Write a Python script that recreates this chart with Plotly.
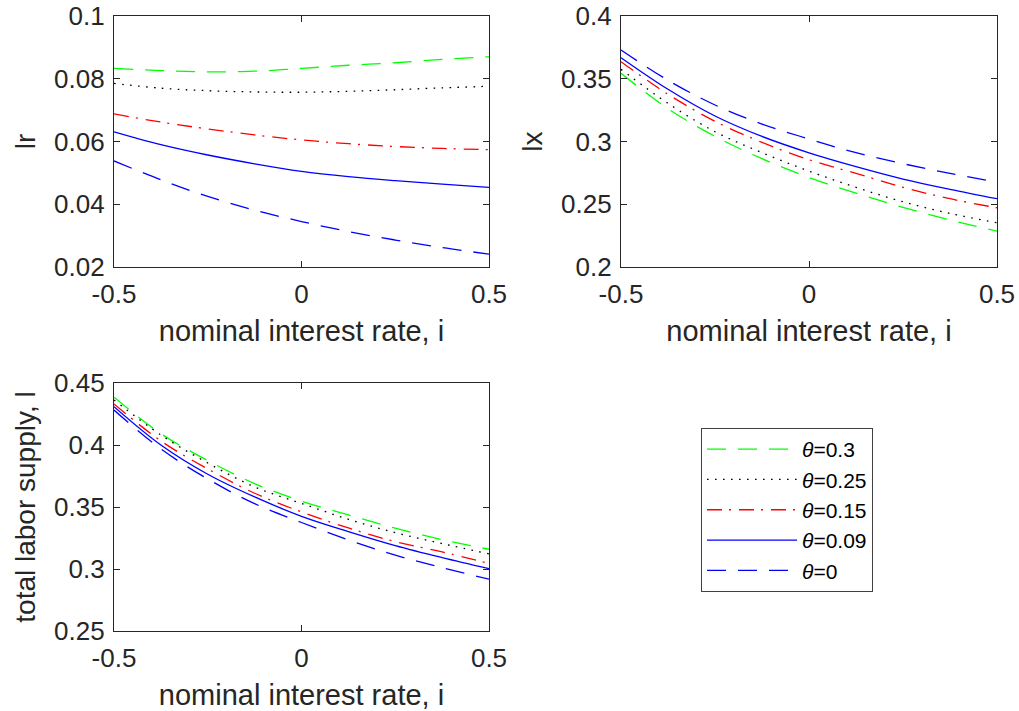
import plotly.graph_objects as go

# ---------------- data ----------------
x_rate = [-0.5, -0.375, -0.25, -0.125, 0.0, 0.125, 0.25, 0.375, 0.5]

theta_labels = ["0.3", "0.25", "0.15", "0.09", "0"]

lr_030 = [0.0833, 0.0826, 0.0822, 0.0824, 0.0833, 0.0843, 0.0851, 0.0862, 0.0870]
lr_025 = [0.0785, 0.0770, 0.0762, 0.0758, 0.0757, 0.0760, 0.0765, 0.0771, 0.0776]
lr_015 = [0.0688, 0.0662, 0.0640, 0.0621, 0.0605, 0.0593, 0.0584, 0.0578, 0.0574]
lr_009 = [0.0631, 0.0590, 0.0557, 0.0529, 0.0505, 0.0488, 0.0475, 0.0464, 0.0454]
lr_000 = [0.0538, 0.0478, 0.0425, 0.0381, 0.0345, 0.0313, 0.0286, 0.0262, 0.0241]

lx_030 = [0.3543, 0.3261, 0.3041, 0.2863, 0.2713, 0.2588, 0.2475, 0.2375, 0.2285]
lx_025 = [0.3575, 0.3304, 0.3078, 0.2911, 0.2764, 0.2635, 0.2520, 0.2427, 0.2353]
lx_015 = [0.3636, 0.3376, 0.3161, 0.2993, 0.2855, 0.2746, 0.2635, 0.2544, 0.2472]
lx_009 = [0.3668, 0.3416, 0.3203, 0.3040, 0.2910, 0.2800, 0.2701, 0.2619, 0.2544]
lx_000 = [0.3729, 0.3488, 0.3291, 0.3139, 0.3020, 0.2911, 0.2823, 0.2746, 0.2677]

l_030 = [0.4385, 0.4092, 0.3874, 0.3689, 0.3547, 0.3436, 0.3329, 0.3237, 0.3159]
l_025 = [0.4363, 0.4081, 0.3855, 0.3662, 0.3529, 0.3401, 0.3293, 0.3205, 0.3122]
l_015 = [0.4331, 0.4033, 0.3807, 0.3611, 0.3460, 0.3331, 0.3221, 0.3138, 0.3044]
l_009 = [0.4309, 0.4000, 0.3764, 0.3581, 0.3425, 0.3302, 0.3189, 0.3092, 0.3003]
l_000 = [0.4282, 0.3968, 0.3726, 0.3527, 0.3375, 0.3235, 0.3111, 0.3011, 0.2918]

x_ticks = [-0.5, 0, 0.5]
x_ticktext = ["-0.5", "0", "0.5"]
lr_ticks = [0.02, 0.04, 0.06, 0.08, 0.1]
lr_ticktext = ["0.02", "0.04", "0.06", "0.08", "0.1"]
lx_ticks = [0.2, 0.25, 0.3, 0.35, 0.4]
lx_ticktext = ["0.2", "0.25", "0.3", "0.35", "0.4"]
l_ticks = [0.25, 0.3, 0.35, 0.4, 0.45]
l_ticktext = ["0.25", "0.3", "0.35", "0.4", "0.45"]

# ---------------- styles ----------------
colors = ["#00ff00", "#000000", "#ff0000", "#0000ff", "#0000ff"]
dashes = ["19px,12px", "1.6px,6.4px", "15px,7px,2px,8px", "solid", "19px,12px"]

W, H = 1019, 711
FONT = "Liberation Sans, Arial, Helvetica, sans-serif"
AXC = "#262626"

fig = go.Figure()

panels = [
    ("x", "y", [lr_030, lr_025, lr_015, lr_009, lr_000], True),
    ("x2", "y2", [lx_030, lx_025, lx_015, lx_009, lx_000], False),
    ("x3", "y3", [l_030, l_025, l_015, l_009, l_000], False),
]
for xa, ya, series, show in panels:
    for k, ys in enumerate(series):
        fig.add_trace(go.Scatter(
            x=x_rate, y=ys, xaxis=xa, yaxis=ya, mode="lines",
            line=dict(color=colors[k], width=1.3, dash=dashes[k], shape="spline"),
            name="<i>θ</i>=" + theta_labels[k], showlegend=show,
        ))


def xdom(a, b):
    return [a / W, b / W]


def ydom(top, bottom):
    return [1 - bottom / H, 1 - top / H]


def xax(domain, anchor):
    return dict(
        domain=domain, anchor=anchor, range=[-0.5, 0.5], automargin=False,
        tickvals=x_ticks, ticktext=x_ticktext, ticklabeloverflow="allow",
        ticks="inside", ticklen=6, tickwidth=1, tickcolor=AXC,
        showline=True, linecolor=AXC, linewidth=1.3, mirror="ticks",
        showgrid=False, zeroline=False, ticklabelstandoff=4,
        tickfont=dict(family=FONT, size=26, color=AXC),
        title=dict(text="nominal interest rate, i", standoff=12,
                   font=dict(family=FONT, size=29, color=AXC)),
    )


def yax(domain, anchor, rng, tv, tt, title):
    return dict(
        domain=domain, anchor=anchor, range=rng, automargin=False,
        tickvals=tv, ticktext=tt, ticklabeloverflow="allow",
        ticks="inside", ticklen=6, tickwidth=1, tickcolor=AXC,
        showline=True, linecolor=AXC, linewidth=1.3, mirror="ticks",
        showgrid=False, zeroline=False, ticklabelstandoff=3,
        tickfont=dict(family=FONT, size=26, color=AXC),
        title=dict(text=title, standoff=10,
                   font=dict(family=FONT, size=28, color=AXC)),
    )


fig.update_layout(
    width=W, height=H,
    margin=dict(l=0, r=0, t=0, b=0),
    paper_bgcolor="white", plot_bgcolor="white",
    font=dict(family=FONT, color=AXC),
    xaxis=xax(xdom(114, 489), "y"),
    yaxis=yax(ydom(16, 267), "x", [0.02, 0.1], lr_ticks, lr_ticktext, "lr"),
    xaxis2=xax(xdom(621, 997), "y2"),
    yaxis2=yax(ydom(16, 267), "x2", [0.2, 0.4], lx_ticks, lx_ticktext, "lx"),
    xaxis3=xax(xdom(114, 489), "y3"),
    yaxis3=yax(ydom(383, 631), "x3", [0.25, 0.45], l_ticks, l_ticktext,
               "total labor supply, l"),
    legend=dict(
        x=701 / W, y=1 - 428 / H, xanchor="left", yanchor="top",
        bgcolor="white", bordercolor="#404040", borderwidth=1,
        font=dict(family=FONT, size=21, color="#000000"),
        itemwidth=90, tracegroupgap=0,
    ),
)

# remove the default 8px page margin so the figure fills the window exactly
fig.write_html(
    "out.html",
    config={"displayModeBar": False},
    post_script="document.body.style.margin='0';document.body.style.overflow='hidden';",
)
